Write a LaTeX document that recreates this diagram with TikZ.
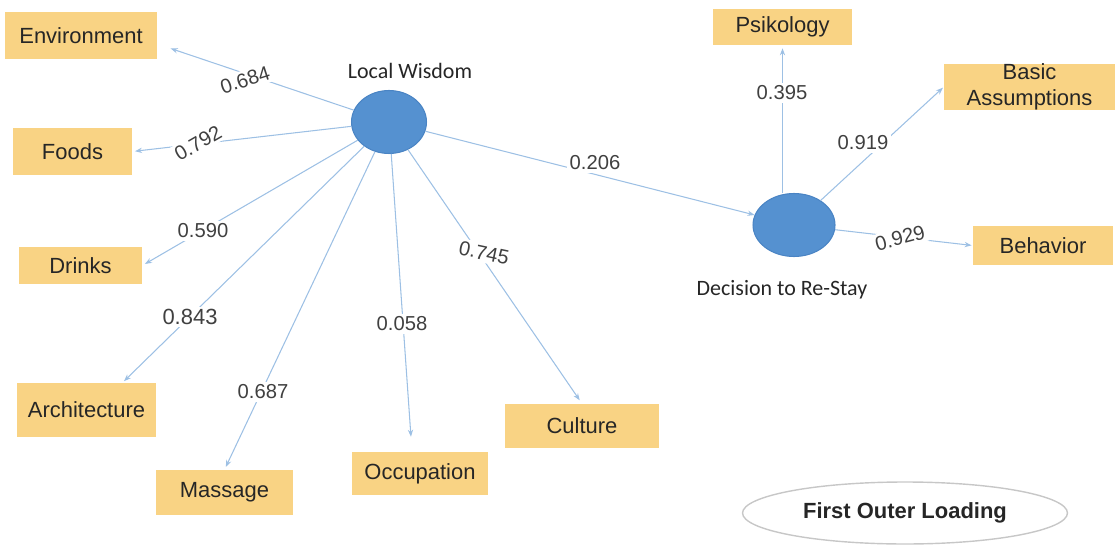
\documentclass[tikz,border=0pt]{standalone}
\usepackage{fontspec}
\setmainfont{Liberation Sans}
\newfontfamily\calibri{Carlito}
\usepackage{tikz}
\usetikzlibrary{calc, shapes.geometric, arrows.meta, positioning}
\definecolor{boxfill}{HTML}{F9D384}
\definecolor{lvfill}{HTML}{5591D0}
\definecolor{lvdraw}{HTML}{4A84C4}
\definecolor{linkblue}{HTML}{9DC0E4}
\definecolor{textdark}{HTML}{262626}
\definecolor{numgray}{HTML}{404040}

\begin{document}
\begin{tikzpicture}[
        x=0.02cm, y=-0.02cm,
        indicator/.style = {rectangle, fill=boxfill, inner sep=0pt, align=center, text=textdark, font=\fontsize{12.5}{15}\selectfont},
        latent/.style = {ellipse, fill=lvfill, draw=lvdraw, line width=0.6pt, minimum width=1.5cm, minimum height=1.26cm, inner sep=0pt},
        lvname/.style = {text=textdark, font=\calibri\fontsize{12.5}{15}\selectfont},
        weight/.style = {fill=white, inner sep=1.5pt, text=numgray, font=\fontsize{11.5}{13}\selectfont},
        link/.style = {draw=linkblue, line width=0.6pt, -{Stealth[length=4pt, width=3pt]}}
    ]

        \useasboundingbox (0,0) rectangle (1118,547);

        % Latent variables
        \node (localWisdom) [latent] at (389,122) {};
        \node (decision) [latent, minimum width=1.64cm] at (794,225) {};
        \node (localWisdomName) [lvname] at (410,71) {Local Wisdom};
        \node (decisionName) [lvname] at (782,290) {Decision to Re-Stay};

        % Indicators of Local Wisdom
        \node (environment) [indicator, minimum width=3.04cm, minimum height=0.94cm] at (81,35.5) {Environment};
        \node (foods) [indicator, minimum width=2.38cm, minimum height=0.94cm] at (72.5,151.5) {Foods};
        \node (drinks) [indicator, minimum width=2.46cm, minimum height=0.74cm] at (80.5,265.5) {Drinks};
        \node (architecture) [indicator, minimum width=2.78cm, minimum height=1.08cm] at (86.5,410) {Architecture};
        \node (massage) [indicator, minimum width=2.74cm, minimum height=0.9cm] at (224.5,492.5) {Massage};
        \node (occupation) [indicator, minimum width=2.72cm, minimum height=0.86cm] at (420,473.5) {Occupation};
        \node (culture) [indicator, minimum width=3.08cm, minimum height=0.88cm] at (582,426) {Culture};

        % Indicators of Decision to Re-Stay
        \node (psikology) [indicator, minimum width=2.78cm, minimum height=0.72cm] at (782.5,27) {Psikology};
        \node (basic) [indicator, minimum width=3.42cm, minimum height=0.88cm] at (1029.5,87) {Basic\\Assumptions};
        \node (behavior) [indicator, minimum width=2.8cm, minimum height=0.78cm] at (1043,245.5) {Behavior};

        % Arrows
        \draw [link, shorten >=8pt] (localWisdom) -- ($(environment.east)+(0,8.5)$);
        \draw [link, shorten >=1.5pt] (localWisdom) -- (foods.east);
        \draw [link, shorten >=1.7pt] (localWisdom) -- (drinks.east);
        \draw [link, shorten >=1.2pt] (localWisdom) -- ($(architecture.north)+(36,0)$);
        \draw [link, shorten >=1.7pt] (localWisdom) -- (massage.north);
        \draw [link, shorten >=8.5pt] (localWisdom) -- ($(occupation.north)+(-8,0)$);
        \draw [link, shorten >=2.3pt] (localWisdom) -- (culture.north);
        \draw [link] (localWisdom) -- (decision);

        \draw [link, shorten >=1.7pt] (psikology.south |- decision.north) -- (psikology.south);
        \draw [link, shorten >=0.6pt] (decision) -- (basic.west);
        \draw [link, shorten >=0.6pt] (decision) -- (behavior.west);

        % Loadings
        \node (wEnvironment) [weight, rotate=18] at (245,80) {0.684};
        \node (wFoods) [weight, rotate=30] at (198,143) {0.792};
        \node (wDrinks) [weight] at (203,231) {0.590};
        \node (wArchitecture) [weight, font=\fontsize{12.5}{14}\selectfont] at (190,317) {0.843};
        \node (wMassage) [weight] at (263,392) {0.687};
        \node (wOccupation) [weight] at (402,324) {0.058};
        \node (wCulture) [weight, rotate=-12] at (484,253) {0.745};
        \node (wDecision) [weight] at (595,163) {0.206};
        \node (wPsikology) [weight] at (782,93) {0.395};
        \node (wBasic) [weight] at (863,143) {0.919};
        \node (wBehavior) [weight, rotate=15] at (900,238) {0.929};

        % Caption
        \node (caption) [ellipse, draw=black!22, line width=0.8pt, minimum width=6.5cm, minimum height=1.24cm, font=\bfseries\fontsize{12.5}{15}\selectfont, text=textdark] at (905,513) {First Outer Loading};

    \end{tikzpicture}
\end{document}
